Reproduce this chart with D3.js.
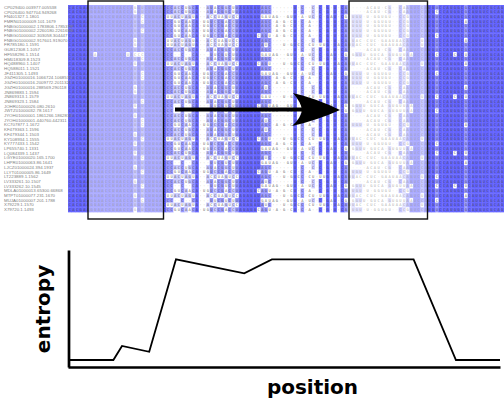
<!DOCTYPE html>
<html>
<head>
<meta charset="utf-8">
<script src="https://cdnjs.cloudflare.com/ajax/libs/d3/7.8.5/d3.min.js"></script>
<style>
  body { margin: 0; background: #fff; }
  svg { display: block; }
</style>
</head>
<body>
<div id="chart"></div>
<script>
// sequence names, one per alignment row
const seqNames = [
  "CP029400.003977.005538", "CP026400.947704.949268", "FN401327.1.1801",
  "FMRN01000009.101.1679", "FNBG01000002.1783806.1785379", "FNBG01000002.2260180.2261659",
  "FNBG01000002.303058.304447", "FNBG01000002.917601.919070", "FR785180.1.1591",
  "GU812308.1.1057", "HF558296.1.1514", "HM018309.8.1523", "HQ488960.1.1407",
  "HQ588011.1.1521", "JF411305.1.1493", "JGZH01000016.1066724.1068572",
  "JGZH01000016.2009772.2011321", "JGZH01000016.288569.290118", "JN869883.1.1594",
  "JN869313.1.1579", "JN869323.1.1584", "JOHR01000026.080.2610", "JWTZ01000032.78.1617",
  "JYOH01000001.1861266.1862813", "JYOH01000001.440760.442311", "KC707877.1.1672",
  "KF479363.1.1596", "KF479344.1.1503", "KY108934.1.1555", "KY777433.1.1542",
  "LP655740.1.1331", "LQ084339.1.1437", "LGYE01000020.165.1700", "LHPR01000063.86.1641",
  "LJCZ01000024.394.1937", "LLYT01000005.86.1649", "LT223889.1.1562", "LV333261.10.1507",
  "LV333262.10.1545", "MDLA01000013.65300.66868", "MTPT01000077.231.1670",
  "MUJA01000007.201.1788", "X79229.1.1570", "X79720.1.1493"
];

// aligned residues (spaces only split the blocks for reading)
const alignment = [
  "CACGAAGGAACCUUACCAGGUCUUGAC CCACCUGCA--AUACGGCUU AGAGAUAGC ------U-C--C-C-G-U-CA- ----ACAU-CG--CAAGUCCA UGUCCAUGGCGCAUGUCGCAG",
  "CACGAAGGAACCUUACCAGGUCUUGAC CCACCUGCA--AUACGGCUU AGAGAUAGC ------U-C--C-C-G-U-CA- ----ACAU-CG--CAAGUCCA UGCCCAUGGCGCAUGUCGCAG",
  "CACGAAGGAACCUUACCAUGCCUUGAC UUACUAGUA--ACCUAGUCC AGAGAUGAU AG--GUU-A-UC-C-GAU-CG- UGU-U-GGUGU--CCGGUCCA UGUCCAUGGCGCAUGUCGCAG",
  "CACGAAGGAACCUUACCAUGCCUUGAC CCGUCAACA-UGUCCGACCU AGAGAUAGC -A-G-CU-C-A--C-G-U-CA- UGU-U-GGUGU--CCGGUCCA UGUCCAUGGCACAUGUCGCAG",
  "CACGAAGGAACCUUACCAUGUCUUGAC CCGUCAACA-UGUCCGACCU AGAGAUAGC -A-G-CU-C-A--C-G-U-CA- UGU-U-GGUGU--CCGGUCCA UGUCCAUGGCGCAUGUCGCAG",
  "CACGAAGGAACCUUACCAUGCCUUGAC CCGUCAACA-UGUCCGACCU AGAGAUAGC -A-G-CU-C-A--C-G-U-CA- UGU-U-GGUGU--CCGGUCCA UGUCCAUGGCGCAUGUCGCAG",
  "CACGAAGGAACCUUACCAUGUCUUGAC CCGUCAACA-UGUCCGACCU AGAGACAGU -A-G-CU-C-A--C-G-U-CA- UGU-U-GGUGU--CCGGUCCA UGCCCAUGGCGCAUGUCGCAG",
  "CACGAAGGAACCUUACCAGGUCUUGAC UUACUAGUA--ACCUAGUCC AGAGAUAGC ------U-C--C-C-G-U-CA- UAC-CUC-GAAUAACAGUCUA UGUCCAUGGCACAUGUCGCAG",
  "CACGAAGGAACCUUACCAGGUCUUGAC UUACUAGUA--ACCUAGUCC AGAGAUAUC ---U-GUCC-CU-UUG-UACAU UAC-CUC-GAAUAACAGUCUA UGUCCAUGGCGCAUGUCGCAG",
  "CACGAAGGAACCUUACCAUGUCUUGAC CCACCUGCA--AUACGGCUU AGAGAUAGC ------U-C--C-C-G-U-CA- ----ACAU-CG--CAAGUCCA UGUCCAUGGCGCAUGUCGCAG",
  "CACGAAGAAACCUUACUACCCCUUGAC CC--C--CA---UUCGUCUU AGAGAUGAU AG--GUU-A-UC-C-GAU-CG- GGUU-GUCA-GUGUUAAUCCA UGCCCAUCGCUCAUGUCGCAG",
  "CACGAAGGAACCUUACCAUGCCUUGAC CCACCUGCA--AUACGGCUU AGAGAUAGC ------U-C--C-C-G-U-CA- ----ACAU-CG--CAAGUCCA UGUCCAUGGCGCAUGUCGCAG",
  "CACGAAGGAACCUUACCAGGUCUUGAC UUACUAGUA--ACCUAGUCC AGAGACAGU ---U-GUCC-CU-UUG-UACAU UAC-CUC-GAAUAACAGUCUA UGUCCAUGGCACAUGUCGCAG",
  "CACGAAGGAACCUUACCAUGUCUUGAC CCACCUGCA--AUACGGCUU AGAGAUAGC ------U-C--C-C-G-U-CA- ----ACAU-CG--CAAGUCCA UGUCCAUGGCGCAUGUCGCAG",
  "CACGAAGGAACCUUACCAUGCCUUGAC CCGUCAACA-UGUCCGACCU AGAGAUGAU AG--GUU-A-UC-C-GAU-CG- UGU-U-GGUGU--CCGGUCCA UGCCCAUGGCGCAUGUCGCAG",
  "CACGAAGGAACCUUACCAUGCCUUGAC CCGUCAACA-UGUCCGACCU AGAGAUAGC -A-G-CU-C-A--C-G-U-CA- UGU-U-GGUGU--CCGGUCCA UGUCCAUGGCGCAUGUCGCAG",
  "CACGAAGGAACCUUACCAUGUCUUGAC CCGUCAACA-UGUCCGACCU AGAGAUAGC -A-G-CU-C-A--C-G-U-CA- UGU-U-GGUGU--CCGGUCCA UGUCCAUGGCGCAUGUCGCAG",
  "CACGAAGGAACCUUACCAGGUCUUGAC CCACCUGCA--AUACGGCUU AGAGAUAUC ------U-C--C-C-G-U-CA- ----ACAU-CG--CAAGUCCA UGUCCAUGGCACAUGUCGCAG",
  "CACGAAGGAACCUUACCAGGUCUUGAC CCACCUGCA--AUACGGCUU AGAGAUAGC ------U-C--C-C-G-U-CA- ----ACAU-CG--CAAGUCCA UGUCCAUGGCGCAUGUCGCAG",
  "CACGAAGGAACCUUACCAUGUCUUGAC UUACUAGUA--ACCUAGUCC AGAGAUGAU ---U-GUCC-CU-UUG-UACAU UAC-CUC-GAAUAACAGUCUA UGCCCAUCGCUCAUGUCGCAG",
  "CACGAAGGAACCUUACCAUGCCUUGAC CCACCUGCA--AUACGGCUU AGAGAUAGC ------U-C--C-C-G-U-CA- ----ACAU-CG--CAAGUCCA UGUCCAUGGCGCAUGUCGCAG",
  "CACGAAGGAACCUUACCAGGUCUUGAC CC--C--CA---UUCGUCUU AGAGACAGU AG--GUU-A-UC-C-GAU-CG- GGUU-GUCA-GUGUUAAUCCA UGUCCAUGGCGCAUGUCGCAG",
  "CACGAAGGAACCUUACCAUGUCUUGAC CC--C--CA---UUCGUCUU AGAGAUGAU AG--GUU-A-UC-C-GAU-CG- GGUU-GUCA-GUGUUAAUCCA UGCCCAUGGCGCAUGUCGCAG",
  "CACGAAGGAACCUUACCAGGUCUUGAC CCACCUGCA--AUACGGCUU AGAGAUAGC ------U-C--C-C-G-U-CA- ----ACAU-CG--CAAGUCCA UGUCCAUGGCGCAUGUCGCAG",
  "CACGAAGGAACCUUACCAUGCCUUGAC CCACCUGCA--AUACGGCUU AGAGAUAUC ------U-C--C-C-G-U-CA- ----ACAU-CG--CAAGUCCA UGUCCAUGGCGCAUGUCGCAG",
  "CACGAAGGAACCUUACCAUGCCUUGAC CCGUCAACA-UGUCCGACCU AGAGAUAGC -A-G-CU-C-A--C-G-U-CA- UGU-U-GGUGU--CCGGUCCA UGUCCAUGGCACAUGUCGCAG",
  "CACGAAGGAACCUUACCAUGUCUUGAC CCACCUGCA--AUACGGCUU AGAGAUAUC ------U-C--C-C-G-U-CA- ----ACAU-CG--CAAGUCCA UGUCCAUGGCGCAUGUCGCAG",
  "CACGAAGGAACCUUACCAGGUCUUGAC CCACCUGCA--AUACGGCUU AGAGAUAGC ------U-C--C-C-G-U-CA- ----ACAU-CG--CAAGUCCA UGUCCAUGGCGCAUGUCGCAG",
  "CACGAAGGAACCUUACCAUGCCUUGAC UUACUAGUA--ACCUAGUCC AGAGACAGU ---U-GUCC-CU-UUG-UACAU UAC-CUC-GAAUAACAGUCUA UGUCCAUGGCGCAUGUCGCAG",
  "CACGAAGGAACCUUACCAGGUCUUGAC CCGUCAACA-UGUCCGACCU AGAGAUAGC -A-G-CU-C-A--C-G-U-CA- UGU-U-GGUGU--CCGGUCCA UGCCCAUGGCGCAUGUCGCAG",
  "CACGAAGGAACCUUACCAUGUCUUGAC CCGUCAACA-UGUCCGACCU AGAGAUGAU AG--GUU-A-UC-C-GAU-CG- GGUU-GUCA-GUGUUAAUCCA UGUCCAUGGCGCAUGUCGCAG",
  "CACGAAGGAACCUUACCAGGUCUUGAC CCACCUGCA--AUACGGCUU AGAGAUAGC ------U-C--C-C-G-U-CA- ----ACAU-CG--CAAGUCCA UGCCCAUCGCUCAUGUCGCAG",
  "CACGAAGGAACCUUACCAUGCCUUGAC UUACUAGUA--ACCUAGUCC AGAGAUAUC ---U-GUCC-CU-UUG-UACAU UAC-CUC-GAAUAACAGUCUA UGUCCAUGGCGCAUGUCGCAG",
  "CACGAAGGAACCUUACCAUGUCUUGAC CC--C--CA---UUCGUCUU AGAGAUGAU AG--GUU-A-UC-C-GAU-CG- GGUU-GUCA-GUGUUAAUCCA UGUCCAUGGCACAUGUCGCAG",
  "CACGAAGGAACCUUACCAGGUCUUGAC CCACCUGCA--AUACGGCUU AGAGAUAGC ------U-C--C-C-G-U-CA- ----ACAU-CG--CAAGUCCA UGUCCAUGGCGCAUGUCGCAG",
  "CACGAAGGAACCUUACCAUGCCUUGAC CCGUCAACA-UGUCCGACCU AGAGACAGU -A-G-CU-C-A--C-G-U-CA- UGU-U-GGUGU--CCGGUCCA UGUCCAUGGCGCAUGUCGCAG",
  "CACGAAGGAACCUUACCAUGUCUUGAC UUACUAGUA--ACCUAGUCC AGAGAUAGC ---U-GUCC-CU-UUG-UACAU UAC-CUC-GAAUAACAGUCUA UGCCCAUGGCGCAUGUCGCAG",
  "CACGAAGGAACCUUACCAGGUCUUGAC CCACCUGCA--AUACGGCUU AGAGAUAUC ------U-C--C-C-G-U-CA- ----ACAU-CG--CAAGUCCA UGUCCAUGGCGCAUGUCGCAG",
  "CACGAAGGAACCUUACCAUGCCUUGAC CC--C--CA---UUCGUCUU AGAGAUGAU AG--GUU-A-UC-C-GAU-CG- GGUU-GUCA-GUGUUAAUCCA UGCCCAUCGCUCAUGUCGCAG",
  "CACGAAGGAACCUUACCAUGUCUUGAC CCGUCAACA-UGUCCGACCU AGAGACAGU -A-G-CU-C-A--C-G-U-CA- UGU-U-GGUGU--CCGGUCCA UGUCCAUGGCGCAUGUCGCAG",
  "CACGAAGGAACCUUACCAGGUCUUGAC UUACUAGUA--ACCUAGUCC AGAGAUAGC ---U-GUCC-CU-UUG-UACAU UAC-CUC-GAAUAACAGUCUA UGUCCAUGGCACAUGUCGCAG",
  "CACGAAGGAACCUUACCAUGCCUUGAC CC--C--CA---UUCGUCUU AGAGAUGAU AG--GUU-A-UC-C-GAU-CG- GGUU-GUCA-GUGUUAAUCCA UGCCCAUGGCGCAUGUCGCAG",
  "CACGAAGGAACCUUACCAUGUCUUGAC UUACUAGUA--ACCUAGUCC AGAGAUAUC ---U-GUCC-CU-UUG-UACAU UAC-CUC-GAAUAACAGUCUA UGUCCAUGGCGCAUGUCGCAG",
  "CACGAAGGAACCUUACCAGGUCUUGAC CCGUCAACA-UGUCCGACCU AGAGACAGU -A-G-CU-C-A--C-G-U-CA- UGU-U-GGUGU--CCGGUCCA UGUCCAUGGCGCAUGUCGCAG"
];

// entropy profile along the alignment (position in % of length)
const positions = [0, 10.5, 12.5, 18.8, 25, 40.8, 47.2, 80, 89.8, 100];
const entropy   = [0.06, 0.06, 0.18, 0.13, 0.92, 0.80, 0.92, 0.92, 0.06, 0.06];

let w = 504;
let h = 400;

let svg = d3.select("#chart").append("svg")
            .attr("width", w)
            .attr("height", h)
            .attr("viewBox", `0 0 ${w} ${h}`);

let rows = alignment.map(s => s.replace(/ /g, ""));
let nCol = rows[0].length;

let xCol = d3.scaleBand().domain(d3.range(nCol)).range([68, 504]);
let yRow = d3.scaleBand().domain(seqNames).range([5, 212]);

// percent identity to the column consensus (gaps never count)
let colInfo = d3.range(nCol).map(c => {
    let counts = d3.rollup(rows.map(r => r[c]).filter(ch => ch !== "-"), v => v.length, d => d);
    let cons = null, n = 0;
    counts.forEach((v, k) => { if (v > n) { n = v; cons = k; } });
    return { cons: cons, pid: n / rows.length };
});

function shade(ch, c) {
    let info = colInfo[c];
    if (ch === "-" || ch !== info.cons) return "#ffffff";
    if (info.pid > 0.8) return "#6464ff";
    if (info.pid > 0.6) return "#9999ff";
    if (info.pid > 0.4) return "#ccccff";
    return "#ffffff";
}

let cells = [];
rows.forEach((r, i) => {
    for (let c = 0; c < nCol; c++) cells.push({ name: seqNames[i], c: c, ch: r[c] });
});

let bw = xCol.bandwidth(), bh = yRow.bandwidth();

let aln = svg.append("g").attr("id", "alignment");
aln.selectAll("rect")
   .data(cells)
   .enter()
   .append("rect")
   .attr("x", d => xCol(d.c))
   .attr("y", d => yRow(d.name))
   .attr("width", bw + 0.35)
   .attr("height", bh + 0.35)
   .attr("fill", d => shade(d.ch, d.c));

aln.selectAll("text")
   .data(cells)
   .enter()
   .append("text")
   .attr("x", d => xCol(d.c) + bw / 2)
   .attr("y", d => yRow(d.name) + bh / 2 + 1.3)
   .attr("text-anchor", "middle")
   .attr("font-family", "DejaVu Sans Mono, monospace")
   .attr("font-size", 3.8)
   .attr("fill", "#444")
   .attr("fill-opacity", 0.85)
   .text(d => d.ch);

svg.append("g").attr("id", "names")
   .selectAll("text")
   .data(seqNames)
   .enter()
   .append("text")
   .attr("x", 4)
   .attr("y", d => yRow(d) + bh / 2 + 1.5)
   .attr("font-family", "Liberation Sans, Arial, sans-serif")
   .attr("font-size", 4.4)
   .attr("fill", "#808080")
   .text(d => d);

// highlighted windows
let boxes = [{ x0: 88, x1: 163.5 }, { x0: 349, x1: 427.5 }];
svg.selectAll(".veil")
   .data(boxes)
   .enter()
   .append("rect")
   .attr("class", "veil")
   .attr("x", d => d.x0)
   .attr("y", 1)
   .attr("width", d => d.x1 - d.x0)
   .attr("height", 218)
   .attr("fill", "#fff")
   .attr("fill-opacity", 0.45);
svg.selectAll(".box")
   .data(boxes)
   .enter()
   .append("rect")
   .attr("class", "box")
   .attr("x", d => d.x0)
   .attr("y", 1)
   .attr("width", d => d.x1 - d.x0)
   .attr("height", 218)
   .attr("fill", "none")
   .attr("stroke", "#111")
   .attr("stroke-width", 1.4);

// arrow
svg.append("line")
   .attr("x1", 175).attr("y1", 109.5)
   .attr("x2", 306).attr("y2", 109.5)
   .attr("stroke", "#000")
   .attr("stroke-width", 4.2);
svg.append("path")
   .attr("d", "M340,110 Q318,99 293,93 Q301,102 302,110 Q301,118 292,126 Q318,120 340,110 Z")
   .attr("fill", "#000");

// entropy chart
let xPos = d3.scaleLinear().domain([0, 100]).range([68, 500]);
let yEnt = d3.scaleLinear().domain([0, 1]).range([367, 250]);

svg.append("g")
   .attr("id", "x-axis")
   .attr("transform", "translate(0, 367)")
   .call(d3.axisBottom(xPos).tickValues([]).tickSizeOuter(0))
   .select(".domain")
   .attr("stroke", "#000")
   .attr("stroke-width", 2.7);

svg.append("g")
   .attr("id", "y-axis")
   .attr("transform", "translate(68.5, 0)")
   .call(d3.axisLeft(yEnt).tickValues([]).tickSizeOuter(0))
   .select(".domain")
   .attr("stroke", "#000")
   .attr("stroke-width", 2.7);

let line = d3.line()
    .x((d, i) => xPos(positions[i]))
    .y(d => yEnt(d));

svg.append("path")
   .datum(entropy)
   .attr("d", line)
   .attr("fill", "none")
   .attr("stroke", "#000")
   .attr("stroke-width", 1.8);

svg.append("text")
   .attr("transform", "translate(50, 309) rotate(-90)")
   .attr("text-anchor", "middle")
   .attr("font-family", "DejaVu Sans, sans-serif")
   .attr("font-weight", "bold")
   .attr("font-size", 20)
   .text("entropy");

svg.append("text")
   .attr("x", 312.5)
   .attr("y", 394)
   .attr("text-anchor", "middle")
   .attr("font-family", "DejaVu Sans, sans-serif")
   .attr("font-weight", "bold")
   .attr("font-size", 20)
   .text("position");
</script>
</body>
</html>
